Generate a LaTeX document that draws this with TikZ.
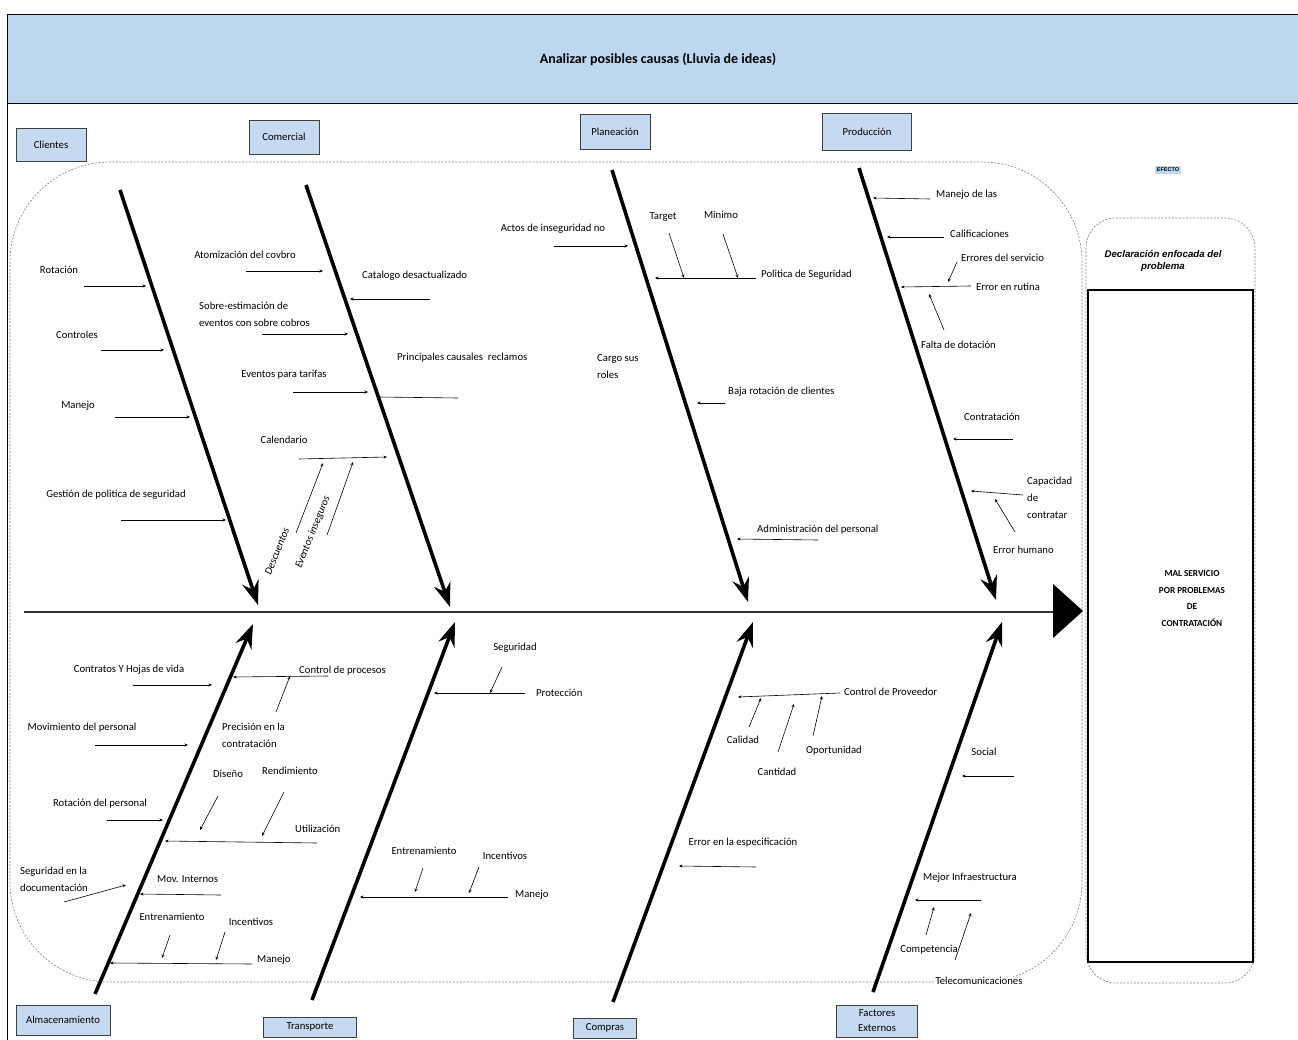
\documentclass[tikz,border=0pt]{standalone}
\usepackage{fontspec}
\setmainfont{Carlito}
\newfontfamily\arialf{Liberation Sans}
\usetikzlibrary{arrows.meta}
\definecolor{band}{HTML}{BDD7EE}
\definecolor{boxfill}{HTML}{C5D9F1}
\begin{document}
\begin{tikzpicture}[x=1pt,y=-1pt,
  font=\fontsize{10.7}{17}\selectfont,
  lbl/.style={inner sep=0pt,align=left},
  wlbl/.style={inner sep=0pt,align=left,anchor=west},
  rlbl/.style={inner sep=0pt,font=\fontsize{10.7}{17}\selectfont\itshape,rotate=68},
  cat/.style={draw=black!75,fill=boxfill,line width=0.9pt,inner sep=0pt,align=center,font=\fontsize{10.7}{16}\selectfont},
  bone/.style={line width=3.6pt,-{Stealth[length=24pt,width=17pt,inset=8pt]}},
  sub/.style={line width=0.6pt,-{Stealth[length=3.5pt,width=3pt]}},
  plainln/.style={line width=0.6pt},
  dashreg/.style={draw=black!50,line width=0.6pt,dash pattern=on 2pt off 1.5pt}]
\useasboundingbox (0,0) rectangle (1298,1040);
% frame and title band
\fill[band] (7,14) rectangle (1298,103);
\draw[line width=0.9pt] (1298,14) -- (7,14) -- (7,1040);
\draw[line width=0.9pt] (7,103) -- (1298,103);
\node[inner sep=0pt,font=\fontsize{14}{17}\selectfont\bfseries] (title) at (658,59) {Analizar posibles causas (Lluvia de ideas)};
% dashed regions
\draw[dashreg,rounded corners=100pt] (10,162) rectangle (1082,982);
\draw[dashreg,rounded corners=30pt] (1086,218) rectangle (1255,983);
\draw[line width=1.4pt] (1088,290) rectangle (1253,962);
\node[inner sep=0pt,align=center,font=\arialf\fontsize{9.7}{12}\selectfont\bfseries\itshape] (decl) at (1163,261) {Declaración enfocada del\\problema};
\node[inner sep=0pt,align=center,font=\fontsize{9.2}{16.5}\selectfont\bfseries] (efecto) at (1192,598.5) {MAL SERVICIO\\POR PROBLEMAS\\DE\\CONTRATACIÓN};
\node[fill=band,inner xsep=2pt,inner ysep=2.5pt,font=\arialf\fontsize{5.5}{6}\selectfont\bfseries] (efl) at (1168,170) {EFECTO};
% category boxes
\node[cat,minimum width=70pt,minimum height=33pt] (cli) at (51,145) {Clientes};
\node[cat,minimum width=70pt,minimum height=34pt] (com) at (284,137) {Comercial};
\node[cat,minimum width=70pt,minimum height=35pt] (pla) at (615,132) {Planeación};
\node[cat,minimum width=89pt,minimum height=37pt] (pro) at (867,132) {Producción};
\node[cat,minimum width=94pt,minimum height=30pt] (alm) at (63,1020) {Almacenamiento};
\node[cat,minimum width=93pt,minimum height=20pt] (tra) at (310,1027) {Transporte};
\node[cat,minimum width=63pt,minimum height=20pt] (cmp) at (605,1028) {Compras};
\node[cat,minimum width=81pt,minimum height=32pt,font=\fontsize{10.7}{15}\selectfont] (fac) at (877,1021) {Factores\\Externos};
% spine
\path (24,612) coordinate (sp0) (1055,612) coordinate (sp1)
      (1053,584) coordinate (hd1) (1083,611) coordinate (hd2) (1053,638) coordinate (hd3);
\draw[line width=2pt,black!80] (sp0) -- (sp1);
\fill (hd1) -- (hd2) -- (hd3) -- cycle;
% bones
\path (120,190) coordinate (b1s) (258,605) coordinate (b1e)
      (306,185) coordinate (b2s) (450,607) coordinate (b2e)
      (612,170) coordinate (b3s) (748,602) coordinate (b3e)
      (859,168) coordinate (b4s) (996,600) coordinate (b4e)
      (95,994) coordinate (b5s) (253,624) coordinate (b5e)
      (312,1000) coordinate (b6s) (455,622) coordinate (b6e)
      (613,1002) coordinate (b7s) (753,622) coordinate (b7e)
      (873,992) coordinate (b8s) (1002,622) coordinate (b8e);
\foreach \b in {1,...,8} {\draw[bone] (b\b s) -- (b\b e);}
% ---- Clientes
\node[lbl] (t_rot) at (59,270) {Rotación};
\node[lbl] (t_con) at (77,335) {Controles};
\node[lbl] (t_man) at (78,406) {Manejo};
\node[lbl] (t_ges) at (116,495) {Gestión de politica de seguridad};
\path (84,286) coordinate (c1a) (146,286) coordinate (c1b)
      (101,350) coordinate (c2a) (164,350) coordinate (c2b)
      (115,417) coordinate (c3a) (190,417) coordinate (c3b)
      (121,520) coordinate (c4a) (226,520) coordinate (c4b);
\foreach \i in {1,...,4} {\draw[sub] (c\i a) -- (c\i b);}
% ---- Comercial
\node[lbl] (t_ato) at (245,255) {Atomización del covbro};
\node[wlbl] (t_cat) at (362,276) {Catalogo desactualizado};
\node[wlbl] (t_sob) at (199,314.5) {Sobre-estimación de\\eventos con sobre cobros};
\node[wlbl] (t_pri) at (397,358) {Principales causales~ reclamos};
\node[lbl] (t_evt) at (284,375) {Eventos para tarifas};
\node[lbl] (t_cal) at (284,440) {Calendario};
\node[rlbl] (t_des) at (277,551) {Descuentos};
\node[rlbl] (t_ein) at (313,532) {Eventos inseguros};
\path (246,271) coordinate (m1a) (323,271) coordinate (m1b)
      (430,299) coordinate (m2a) (350,299) coordinate (m2b)
      (262,334) coordinate (m3a) (348,334) coordinate (m3b)
      (378,397) coordinate (m4a) (458,398) coordinate (m4b)
      (293,392) coordinate (m5a) (368,392) coordinate (m5b)
      (299,459) coordinate (m6a) (387,457) coordinate (m6b)
      (296,533) coordinate (m7a) (323,463) coordinate (m7b)
      (327,535) coordinate (m8a) (353,462) coordinate (m8b);
\foreach \i in {1,2,3,5,6,7,8} {\draw[sub] (m\i a) -- (m\i b);}
\draw[plainln] (m4a) -- (m4b);
% ---- Planeacion
\node[lbl] (t_act) at (553,229) {Actos de inseguridad no};
\node[lbl] (t_tar) at (663,217) {Target};
\node[lbl] (t_min) at (721,215) {Minimo};
\node[wlbl] (t_pol) at (761,275) {Politica de Seguridad};
\node[wlbl] (t_car) at (597,366.5) {Cargo sus\\roles};
\node[wlbl] (t_baj) at (728,392) {Baja rotación de clientes};
\node[wlbl] (t_adm) at (757,530) {Administración del personal};
\path (554,246) coordinate (p1a) (628,246) coordinate (p1b)
      (756,278) coordinate (p2a) (655,278) coordinate (p2b)
      (669,233) coordinate (p3a) (684,278) coordinate (p3b)
      (723,234) coordinate (p4a) (738,278) coordinate (p4b)
      (725,403) coordinate (p5a) (697,403) coordinate (p5b)
      (818,540) coordinate (p6a) (737,539) coordinate (p6b);
\foreach \i in {1,...,6} {\draw[sub] (p\i a) -- (p\i b);}
% ---- Produccion
\node[wlbl] (t_mdl) at (936,195) {Manejo de las};
\node[wlbl] (t_cfc) at (950,234) {Calificaciones};
\node[wlbl] (t_ers) at (961,258) {Errores del servicio};
\node[wlbl] (t_err) at (976,287) {Error en rutina};
\node[wlbl] (t_fal) at (921,345) {Falta de dotación};
\node[wlbl] (t_ctr) at (964,417) {Contratación};
\node[wlbl] (t_cap) at (1027,497.5) {Capacidad\\de\\contratar};
\node[wlbl] (t_erh) at (993,550) {Error humano};
\path (930,199) coordinate (r1a) (873,198) coordinate (r1b)
      (944,237) coordinate (r2a) (887,237) coordinate (r2b)
      (957,262) coordinate (r3a) (948,282) coordinate (r3b)
      (971,286) coordinate (r4a) (901,287) coordinate (r4b)
      (944,330) coordinate (r5a) (929,294) coordinate (r5b)
      (1013,439) coordinate (r6a) (953,439) coordinate (r6b)
      (1023,495) coordinate (r7a) (971,491) coordinate (r7b)
      (1015,532) coordinate (r8a) (995,499) coordinate (r8b);
\foreach \i in {1,...,8} {\draw[sub] (r\i a) -- (r\i b);}
% ---- Almacenamiento
\node[lbl] (t_chv) at (129,670) {Contratos Y Hojas de vida};
\node[wlbl] (t_cpr) at (299,671) {Control de procesos};
\node[wlbl] (t_pre) at (222,735) {Precisión en la\\contratación};
\node[lbl] (t_mov) at (82,728) {Movimiento del personal};
\node[lbl] (t_dis) at (228,774) {Diseño};
\node[lbl] (t_ren) at (290,771) {Rendimiento};
\node[lbl] (t_rdp) at (100,804) {Rotación del personal};
\node[wlbl] (t_uti) at (295,829) {Utilización};
\node[wlbl] (t_seg) at (20,879) {Seguridad en la\\documentación};
\node[wlbl] (t_mvi) at (157,879) {Mov. Internos};
\node[lbl] (t_ent) at (172,917) {Entrenamiento};
\node[lbl] (t_inc) at (251,922) {Incentivos};
\node[wlbl] (t_mnj) at (257,960) {Manejo};
\path (133,685) coordinate (a1a) (212,685) coordinate (a1b)
      (328,676) coordinate (a2a) (233,677) coordinate (a2b)
      (276,712) coordinate (a3a) (290,676) coordinate (a3b)
      (95,745) coordinate (a4a) (188,745) coordinate (a4b)
      (107,820) coordinate (a5a) (163,820) coordinate (a5b)
      (218,796) coordinate (a6a) (200,830) coordinate (a6b)
      (284,792) coordinate (a7a) (262,836) coordinate (a7b)
      (317,843) coordinate (a8a) (165,841) coordinate (a8b)
      (64,902) coordinate (a9a) (126,885) coordinate (a9b)
      (221,895) coordinate (a10a) (140,894) coordinate (a10b)
      (170,935) coordinate (a11a) (162,958) coordinate (a11b)
      (225,932) coordinate (a12a) (216,960) coordinate (a12b)
      (252,964) coordinate (a13a) (110,963) coordinate (a13b);
\foreach \i in {1,...,13} {\draw[sub] (a\i a) -- (a\i b);}
% ---- Transporte
\node[lbl] (t_sgd) at (515,648) {Seguridad};
\node[wlbl] (t_prt) at (536,693) {Protección};
\node[lbl] (t_en2) at (424,851) {Entrenamiento};
\node[lbl] (t_in2) at (505,856) {Incentivos};
\node[wlbl] (t_mn2) at (515,895) {Manejo};
\path (502,667) coordinate (t1a) (490,693) coordinate (t1b)
      (525,693) coordinate (t2a) (434,693) coordinate (t2b)
      (423,868) coordinate (t3a) (415,892) coordinate (t3b)
      (479,867) coordinate (t4a) (469,893) coordinate (t4b)
      (508,897) coordinate (t5a) (360,897) coordinate (t5b);
\foreach \i in {1,...,5} {\draw[sub] (t\i a) -- (t\i b);}
% ---- Compras
\node[wlbl] (t_cpv) at (844,692) {Control de Proveedor};
\node[lbl] (t_cld) at (743,740) {Calidad};
\node[lbl] (t_cnt) at (777,772) {Cantidad};
\node[lbl] (t_opo) at (834,751) {Oportunidad};
\node[lbl] (t_ees) at (743,843) {Error en la especificación};
\path (840,693) coordinate (k1a) (738,697) coordinate (k1b)
      (749,727) coordinate (k2a) (761,698) coordinate (k2b)
      (778,752) coordinate (k3a) (794,704) coordinate (k3b)
      (813,736) coordinate (k4a) (822,696) coordinate (k4b)
      (756,867) coordinate (k5a) (679,866) coordinate (k5b);
\foreach \i in {1,...,5} {\draw[sub] (k\i a) -- (k\i b);}
% ---- Factores externos
\node[lbl] (t_soc) at (984,752) {Social};
\node[lbl] (t_mif) at (970,878) {Mejor Infraestructura};
\node[lbl] (t_cpt) at (929,950) {Competencia};
\node[fill=white,inner xsep=1pt,inner ysep=0pt] (t_tel) at (979,981) {Telecomunicaciones};
\path (1014,776) coordinate (f1a) (962,776) coordinate (f1b)
      (981,900) coordinate (f2a) (915,900) coordinate (f2b)
      (926,935) coordinate (f3a) (934,907) coordinate (f3b)
      (955,960) coordinate (f4a) (971,913) coordinate (f4b);
\foreach \i in {1,...,4} {\draw[sub] (f\i a) -- (f\i b);}
\end{tikzpicture}
\end{document}
